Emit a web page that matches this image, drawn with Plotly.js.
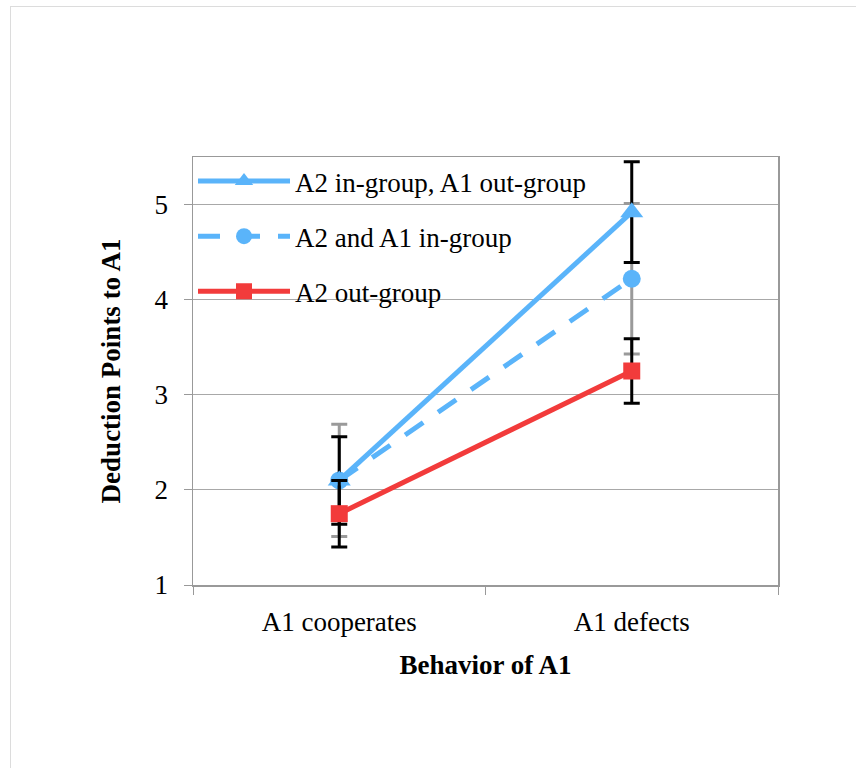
<!DOCTYPE html>
<html>
<head>
<meta charset="utf-8">
<script src="https://cdn.plot.ly/plotly-3.0.1.min.js"></script>
<style>
  html, body { margin: 0; padding: 0; background: #fff; }
  #wrap { position: relative; width: 856px; height: 768px; }
  #chart { width: 856px; height: 768px; }
  #frame { position: absolute; left: 10px; top: 6px; width: 850px; height: 770px;
           border: 1px solid #dcdcdc; pointer-events: none; }
</style>
</head>
<body>
<div id="wrap">
  <div id="chart"></div>
  <div id="frame"></div>
</div>
<script>
// ---- data ----
var categories = ["A1 cooperates", "A1 defects"];
var seriesNames = ["A2 in-group, A1 out-group", "A2 and A1 in-group", "A2 out-group"];
var inOutValues = [2.10, 4.92];
var inOutErrors = [0.46, 0.53];
var bothInValues = [2.10, 4.22];
var bothInErrors = [0.59, 0.79];
var outValues = [1.75, 3.25];
var outErrors = [0.35, 0.34];
var yTickValues = [1, 2, 3, 4, 5];

var blue = "#5AB4FA";
var red = "#F23B3B";

var traces = [
  {
    x: categories, y: bothInValues, name: seriesNames[1], type: "scatter", mode: "lines+markers",
    legendgroup: "g2", legendrank: 2,
    line: { color: blue, width: 5, dash: "22px,18px" },
    marker: { symbol: "circle", size: 18, color: blue },
    error_y: { type: "data", array: bothInErrors, visible: true, color: "#9a9a9a", thickness: 3, width: 8 }
  },
  {
    x: categories, y: inOutValues, name: seriesNames[0], type: "scatter", mode: "lines+markers",
    legendgroup: "g1", legendrank: 1,
    line: { color: blue, width: 5 },
    marker: { symbol: "triangle-up", size: 20, color: blue },
    error_y: { type: "data", array: inOutErrors, visible: true, color: "#000000", thickness: 3, width: 8 }
  },
  {
    x: categories, y: outValues, name: seriesNames[2], type: "scatter", mode: "lines+markers",
    legendgroup: "g3", legendrank: 3,
    line: { color: red, width: 5 },
    marker: { symbol: "square", size: 17, color: red },
    error_y: { type: "data", array: outErrors, visible: true, color: "#000000", thickness: 3, width: 8 }
  }
];

var serif = "Liberation Serif";

var layout = {
  width: 856, height: 768,
  margin: { l: 193, r: 78, t: 157, b: 183 },
  paper_bgcolor: "#ffffff", plot_bgcolor: "#ffffff",
  font: { family: serif, size: 27, color: "#000" },
  showlegend: true,
  legend: {
    x: 0, y: 1.0, xanchor: "left", yanchor: "top",
    bgcolor: "rgba(0,0,0,0)", borderwidth: 0,
    font: { family: serif, size: 27, color: "#000" },
    itemwidth: 92, traceorder: "grouped", tracegroupgap: 17,
    itemclick: false
  },
  xaxis: {
    type: "category", tickson: "boundaries", range: [-0.5, 1.5],
    ticks: "outside", ticklen: 8, tickcolor: "#999",
    showline: true, linecolor: "#999", linewidth: 1.5, mirror: true,
    showgrid: false, zeroline: false,
    tickfont: { family: serif, size: 27 },
    ticklabelstandoff: 12,
    title: { text: "<b>Behavior of A1</b>", font: { family: serif, size: 27 }, standoff: 19 }
  },
  yaxis: {
    range: [1, 5.5], tickvals: yTickValues,
    ticks: "outside", ticklen: 8, tickcolor: "#999",
    showline: true, linecolor: "#999", linewidth: 1.5, mirror: true,
    showgrid: true, gridcolor: "#a8a8a8", gridwidth: 1, zeroline: false,
    tickfont: { family: serif, size: 27 },
    ticklabelstandoff: 10,
    title: { text: "<b>Deduction Points to A1</b>", font: { family: serif, size: 27 }, standoff: 26 }
  }
};

Plotly.newPlot("chart", traces, layout, { displayModeBar: false, staticPlot: true });
</script>
</body>
</html>
